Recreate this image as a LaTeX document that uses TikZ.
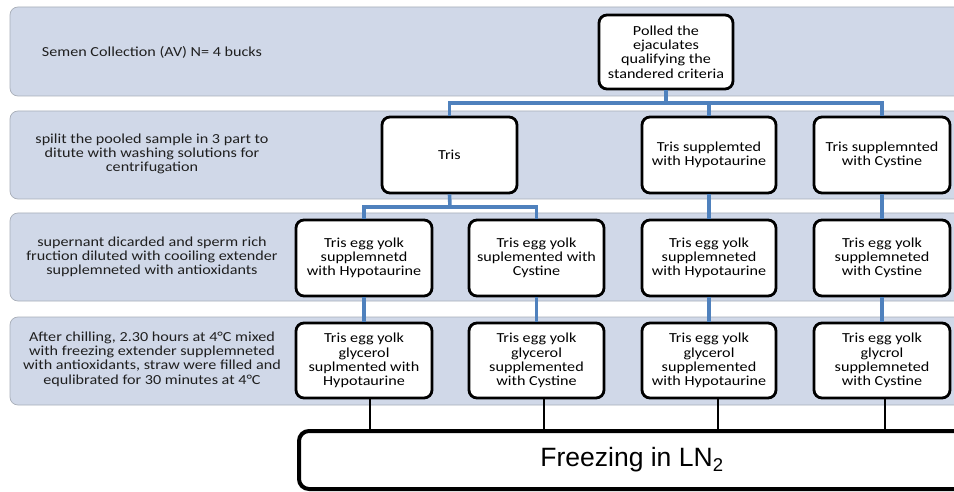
\documentclass[tikz,border=0pt]{standalone}
\usepackage{fontspec}
\setmainfont{Carlito}[FakeStretch=1.17]
\newfontfamily\arialf{Liberation Sans}
\definecolor{bandfill}{HTML}{D0D8E8}
\definecolor{bandline}{HTML}{A8AEB8}
\definecolor{connblue}{HTML}{4F81BD}
\begin{document}
\begin{tikzpicture}[x=1pt,y=-1pt,
  band/.style={fill=bandfill,draw=bandline,line width=0.7pt,rounded corners=8pt},
  bandtext/.style={align=center,font=\fontsize{13.8}{14.3}\selectfont,text=black!88},
  box/.style={draw=black,fill=white,line width=2.8pt,rounded corners=8pt,align=center,
    font=\fontsize{13.8}{14.3}\selectfont,minimum width=135pt,minimum height=75pt,inner sep=1pt},
  conn/.style={draw=connblue,line width=3.6pt},
  thin/.style={draw=black,line width=1.3pt},
  freeze/.style={draw=black,fill=white,line width=4pt,rounded corners=10pt,
    minimum width=666pt,minimum height=58pt,font=\arialf\fontsize{26.5}{30}\selectfont}]
\useasboundingbox (0,0) rectangle (954,492);
\clip (0,0) rectangle (954,492);
% bands
\path[band] (10,7) rectangle (985,96);
\path[band] (10,111) rectangle (985,199);
\path[band] (10,213) rectangle (985,301);
\path[band] (10,317) rectangle (985,405);
% band texts
\node[bandtext] (t1) at (152,52) {Semen Collection (AV) N= 4 bucks};
\node[bandtext] (t2) at (152,154) {spilit the pooled sample in 3 part to\\ditute with washing solutions for\\centrifugation};
\node[bandtext] (t3) at (152,257) {supernant dicarded and sperm rich\\fruction diluted with cooiling extender\\supplemneted with antioxidants};
\node[bandtext] (t4) at (152,359) {After chilling, 2.30 hours at 4°C mixed\\with freezing extender supplemneted\\with antioxidants, straw were filled and\\equlibrated for 30 minutes at 4°C};
% boxes
\node[box,minimum width=134pt,minimum height=74pt] (polled) at (666,52) {Polled the\\ejaculates\\qualifying the\\standered criteria};
\node[box,minimum height=76pt] (tris) at (449.5,155) {Tris};
\node[box,minimum height=76pt,minimum width=134pt] (hypo) at (709,155) {Tris supplemted\\with Hypotaurine};
\node[box,minimum height=76pt,minimum width=136pt] (cys) at (882,155) {Tris supplemnted\\with Cystine};
\node[box,minimum height=76pt,minimum width=136pt] (a3) at (364,258) {Tris egg yolk\\supplemnetd\\with Hypotaurine};
\node[box,minimum height=76pt,minimum width=135pt] (b3) at (536.5,258) {Tris egg yolk\\suplemented with\\Cystine};
\node[box,minimum height=76pt,minimum width=134pt] (c3) at (709,258) {Tris egg yolk\\supplemneted\\with Hypotaurine};
\node[box,minimum height=76pt,minimum width=136pt] (d3) at (882,258) {Tris egg yolk\\supplemneted\\with Cystine};
\node[box,minimum height=75pt,minimum width=136pt] (a4) at (364,360.5) {Tris egg yolk\\glycerol\\suplmented with\\Hypotaurine};
\node[box,minimum height=75pt,minimum width=135pt] (b4) at (536.5,360.5) {Tris egg yolk\\glycerol\\supplemented\\with Cystine};
\node[box,minimum height=75pt,minimum width=134pt] (c4) at (709,360.5) {Tris egg yolk\\glycerol\\supplemented\\with Hypotaurine};
\node[box,minimum height=75pt,minimum width=136pt] (d4) at (882,360.5) {Tris egg yolk\\glycrol\\supplemneted\\with Cystine};
\node[freeze] (fr) at (632,460) {Freezing in LN\textsubscript{2}};
% blue connectors
\coordinate (j1) at (666,103);
\coordinate (j2) at (450,207);
\draw[conn] (polled.south) -- (j1);
\draw[conn] (tris.north) |- (j1) -| (cys.north);
\draw[conn] (hypo.north) -- (hypo.north |- j1);
\draw[conn] (tris.south) -- (j2);
\draw[conn] (a3.north) |- (j2) -| (b3.north);
\draw[conn] (hypo.south) -- (c3.north);
\draw[conn] (cys.south) -- (d3.north);
\draw[conn] (a3.south) -- (a4.north);
\draw[conn] (b3.south) -- (b4.north);
\draw[conn] (c3.south) -- (c4.north);
\draw[conn] (d3.south) -- (d4.north);
% black thin connectors to freezing box
\coordinate (f1) at (370,0);
\coordinate (f2) at (544,0);
\coordinate (f3) at (718,0);
\coordinate (f4) at (885,0);
\draw[thin] (a4.south -| f1) -- (fr.north -| f1);
\draw[thin] (b4.south -| f2) -- (fr.north -| f2);
\draw[thin] (c4.south -| f3) -- (fr.north -| f3);
\draw[thin] (d4.south -| f4) -- (fr.north -| f4);
\end{tikzpicture}
\end{document}
